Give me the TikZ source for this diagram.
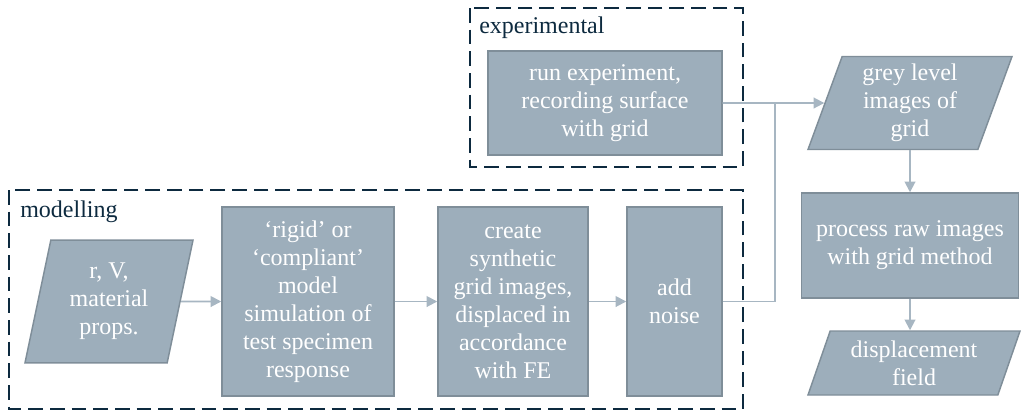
\documentclass[tikz,border=0pt]{standalone}
\usepackage{fontspec}
\setmainfont{Liberation Serif}
\usetikzlibrary{shapes.geometric,arrows.meta}

\definecolor{boxfill}{HTML}{9DAEBB}
\definecolor{boxedge}{HTML}{7F8E99}
\definecolor{flowline}{HTML}{A7B6C2}
\definecolor{frameline}{HTML}{0D2A3F}

\tikzset{
  stepbox/.style={draw=boxedge, fill=boxfill, line width=1.1pt, text=white,
    align=center, inner sep=1pt, font=\fontsize{18}{21}\selectfont},
  databox/.style={stepbox, trapezium, trapezium stretches body,
    trapezium left angle=#1, trapezium right angle=180-#1},
  flow/.style={draw=flowline, line width=1.4pt},
  flowarrow/.style={flow, -{Triangle[length=8pt,width=8pt]}},
  frame/.style={draw=frameline, line width=2.2pt, dash pattern=on 11pt off 5.25pt},
  framelabel/.style={text=frameline, anchor=west, inner sep=0pt,
    font=\fontsize{18}{21}\selectfont}
}

\begin{document}
\begin{tikzpicture}[x=0.75pt, y=-0.75pt]
        \useasboundingbox (0,0) rectangle (1021,412);

        % Dashed frames
        \draw[frame] (470,8) rectangle (743,167);
        \draw[frame] (9,190) rectangle (743,409);
        \node[framelabel] (explabel) at (479,28) {experimental};
        \node[framelabel] (modlabel) at (20,212) {modelling};

        % Experimental branch
        \node[stepbox, minimum width=175.5pt, minimum height=78pt] (run) at (605,103)
            {run experiment,\\recording surface\\with grid};

        % Modelling branch
        \node[databox=72, minimum width=126pt, minimum height=92pt] (inputs) at (109,301.5)
            {r, V,\\material\\props.};
        \node[stepbox, minimum width=129pt, minimum height=141.75pt] (model) at (308,301.5)
            {`rigid' or\\`compliant'\\model\\simulation of\\test specimen\\response};
        \node[stepbox, minimum width=112.5pt, minimum height=141.75pt] (synth) at (513,301.5)
            {create\\synthetic\\grid images,\\displaced in\\accordance\\with FE};
        \node[stepbox, minimum width=71.25pt, minimum height=141.75pt] (noise) at (674.5,301.5)
            {add\\noise};

        % Processing
        \node[databox=67, minimum width=153pt, minimum height=69.75pt] (images) at (910,103)
            {grey level\\images of\\grid};
        \node[stepbox, minimum width=162.75pt, minimum height=78.75pt] (process) at (910,245.5)
            {process raw images\\with grid method};
        \node[databox=65, minimum width=159pt, minimum height=48pt] (field) at (914,363)
            {displacement\\field};

        \coordinate (join) at (775,103);

        % Connectors
        \draw[flowarrow] (inputs) -- (model);
        \draw[flowarrow] (model) -- (synth);
        \draw[flowarrow] (synth) -- (noise);
        \draw[flow] (noise.east) -| (join);
        \draw[flowarrow] (run.east) -- (images.west);
        \draw[flowarrow] (images.south -| process.north) -- (process.north);
        \draw[flowarrow] (process) -- (process |- field.north);
\end{tikzpicture}
\end{document}
